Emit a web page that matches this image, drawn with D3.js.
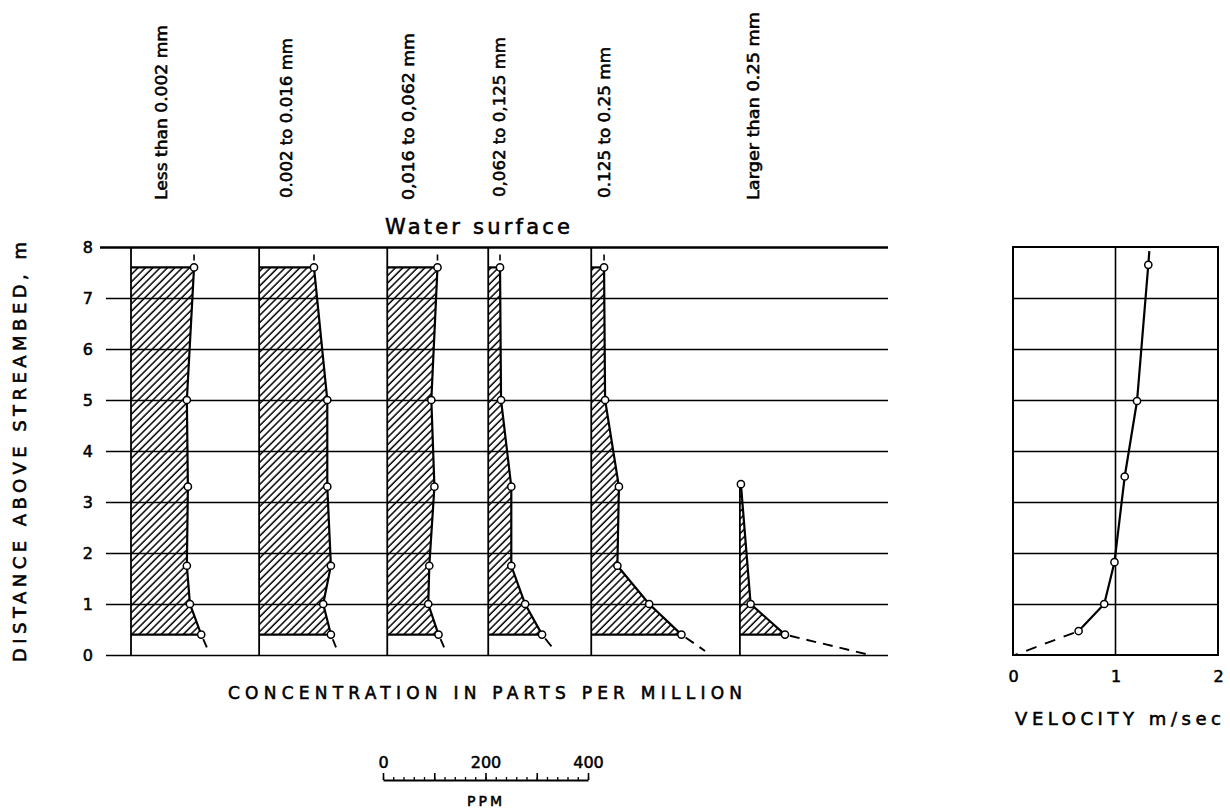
<!DOCTYPE html>
<html><head><meta charset="utf-8">
<script src="https://cdn.jsdelivr.net/npm/d3@7"></script>
<style>
body{margin:0;background:#fff;}
svg{display:block;background:#fff;}
text{font-family:"DejaVu Sans",sans-serif;fill:#000;}
</style></head><body>
<svg id="c" width="1230" height="808"></svg>
<script>
// ---------------- DATA ----------------
const sizeClasses = ["Less than 0.002 mm","0.002 to 0.016 mm","0,016 to 0,062 mm","0,062 to 0,125 mm","0.125 to 0.25 mm","Larger than 0.25 mm"];
const sampleHeights = [7.6, 5.0, 3.3, 1.75, 1.0, 0.4];          // m above streambed
const concLt0002   = [123, 109, 111, 109, 115, 137];               // ppm
const conc0002_0016 = [107, 133, 133, 140, 125, 140];
const conc0016_0062 = [98, 86, 92, 82, 80, 100];
const conc0062_0125 = [23, 25, 45, 45, 72, 105];
const conc0125_025  = [25, 27, 54, 51, 113, 176];
const coarseHeights = [3.35, 1.0, 0.4];
const concGt025     = [2, 21, 88];
const bedExtrapHeight = [0.15, 0.15, 0.15, 0.15, 0.08, 0.0];
const bedExtrapConc   = [148, 150, 111, 125, 222, 254];
const heightTicks = [0, 1, 2, 3, 4, 5, 6, 7, 8];
const velHeights = [7.92, 7.65, 4.98, 3.5, 1.82, 1.0, 0.47];
const velValues  = [1.33, 1.32, 1.21, 1.09, 0.99, 0.89, 0.64];
const velBed = [0.02, 0.0];   // [velocity, height] at bed (dashed extrapolation)
const velTicks = [0, 1, 2];
const ppmMinorTicks = [0,20,40,60,80,100,120,140,160,180,200,220,240,260,280,300,320,340,360,380,400];
const ppmMajorTicks = [0, 100, 200, 300, 400];
const ppmLabelTicks = [0, 200, 400];

// ---------------- LAYOUT ----------------
const columnOffsetPpm = [0, 250, 500, 697, 898, 1188];
const labelPos = [[167,200,175],[292,198,160],[414,200,167],[505,197,160],[610,198,151],[759,200,188]];

const svg = d3.select("#c");
const x = d3.scaleLinear().domain([0, 1477]).range([131, 888]);
const y = d3.scaleLinear().domain([0, 8]).range([655, 247]);
const xv = d3.scaleLinear().domain([0, 2]).range([1013, 1218]);
const TXT = "stroke:#000;stroke-width:0.55";

// hatch pattern
svg.append("defs").append("pattern").attr("id","hatch")
  .attr("patternUnits","userSpaceOnUse").attr("width",5.2).attr("height",5.2)
  .attr("patternTransform","rotate(45)")
  .append("line").attr("x1",1).attr("y1",-1).attr("x2",1).attr("y2",7)
  .attr("stroke","#000").attr("stroke-width",1.5);

// horizontal gridlines + height tick labels
const gA = svg.append("g").attr("transform","translate(106,0)")
  .call(d3.axisLeft(y).tickValues(heightTicks).tickSize(-782).tickPadding(13).tickFormat(d3.format("d")));
gA.select(".domain").remove();
gA.selectAll(".tick line").attr("stroke","#000").attr("stroke-width",d=>d===8?2.6:1.7)
  .attr("x1",d=>d===8?-6:0);
gA.selectAll(".tick text").attr("font-size",16).attr("font-family","DejaVu Sans").attr("style",TXT);

// concentration columns
const series = [concLt0002, conc0002_0016, conc0016_0062, conc0062_0125, conc0125_025, concGt025];
const gC = svg.append("g");
series.forEach((vals, i) => {
  const hs = i === 5 ? coarseHeights : sampleHeights;
  const b = columnOffsetPpm[i];
  const pts = hs.map((h, j) => ({h, c: vals[j]}));
  const area = d3.area().y(d => y(d.h)).x0(x(b)).x1(d => x(b + d.c));
  gC.append("path").datum(pts).attr("d", area).attr("fill","url(#hatch)");
  // baseline vertical
  gC.append("line").attr("x1",x(b)).attr("x2",x(b))
    .attr("y1", y(i === 5 ? hs[0] : 8)).attr("y2", y(0))
    .attr("stroke","#000").attr("stroke-width",1.8);
  // top and bottom edges
  const first = pts[0], last = pts[pts.length-1];
  if (i < 5) {
    gC.append("line").attr("x1",x(b)).attr("x2",x(b+first.c)).attr("y1",y(first.h)).attr("y2",y(first.h))
      .attr("stroke","#000").attr("stroke-width",2.2);
  }
  gC.append("line").attr("x1",x(b)).attr("x2",x(b+last.c)).attr("y1",y(last.h)).attr("y2",y(last.h))
    .attr("stroke","#000").attr("stroke-width",2.2);
  // profile
  gC.append("path").datum(pts)
    .attr("d", d3.line().x(d => x(b + d.c)).y(d => y(d.h)))
    .attr("fill","none").attr("stroke","#000").attr("stroke-width",2.2);
  // top dash towards water surface
  if (i < 5) {
    gC.append("line").attr("x1",x(b+first.c)).attr("x2",x(b+first.c))
      .attr("y1",y(first.h)).attr("y2",y(8))
      .attr("stroke","#000").attr("stroke-width",1.6).attr("stroke-dasharray","0 7 6 40");
  }
  // dashed extrapolation to bed
  gC.append("line").attr("x1",x(b+last.c)).attr("y1",y(last.h))
    .attr("x2",x(b+bedExtrapConc[i])).attr("y2",y(bedExtrapHeight[i]))
    .attr("stroke","#000").attr("stroke-width",1.9)
    .attr("stroke-dasharray","10 7").attr("stroke-dashoffset",12);
  // points
  gC.selectAll(null).data(pts).join("circle")
    .attr("cx", d => x(b + d.c)).attr("cy", d => y(d.h)).attr("r",3.6)
    .attr("fill","#fff").attr("stroke","#000").attr("stroke-width",1.5);
});

// size-class labels (vertical)
sizeClasses.forEach((s, i) => {
  const [lx, ly, len] = labelPos[i];
  svg.append("text").attr("transform",`translate(${lx},${ly}) rotate(-90)`)
    .attr("font-size",16).attr("textLength",len).attr("lengthAdjust","spacingAndGlyphs")
    .attr("style",TXT).text(s);
});

svg.append("text").attr("x",385).attr("y",234).attr("font-size",21)
  .attr("textLength",185).attr("lengthAdjust","spacing").attr("style",TXT).text("Water surface");

svg.append("text").attr("transform","translate(26,662) rotate(-90)").attr("font-size",18)
  .attr("textLength",420).attr("lengthAdjust","spacing").attr("style","stroke:#000;stroke-width:0.6").text("DISTANCE ABOVE STREAMBED, m");

svg.append("text").attr("x",228).attr("y",699).attr("font-size",17)
  .attr("textLength",514).attr("lengthAdjust","spacing").attr("style",TXT).text("CONCENTRATION IN PARTS PER MILLION");

// PPM scale bar
const sb = d3.scaleLinear().domain([0, 400]).range([x(0), x(400)]);
const gS = svg.append("g").attr("transform",`translate(${383 - x(0)},780)`);
const minor = gS.append("g").call(d3.axisTop(sb).tickValues(ppmMinorTicks).tickSize(3).tickSizeOuter(0).tickFormat(""));
minor.selectAll("line").attr("stroke","#000").attr("stroke-width",1.3);
minor.select(".domain").attr("stroke","#000").attr("stroke-width",1.8);
const major = gS.append("g").call(d3.axisTop(sb).tickValues(ppmMajorTicks).tickSize(7).tickSizeOuter(0).tickPadding(5)
  .tickFormat(d => ppmLabelTicks.includes(d) ? d : ""));
major.select(".domain").remove();
major.selectAll("line").attr("stroke","#000").attr("stroke-width",1.6);
major.selectAll("text").attr("font-size",16).attr("font-family","DejaVu Sans").attr("style",TXT);
svg.append("text").attr("x",486).attr("y",806).attr("text-anchor","middle").attr("font-size",14)
  .attr("letter-spacing",3).attr("style",TXT).text("PPM");

// velocity panel
const gV = svg.append("g");
const gVg = gV.append("g").attr("transform",`translate(${xv(0)},0)`)
  .call(d3.axisLeft(y).tickValues([1,2,3,4,5,6,7]).tickSize(-(xv(2)-xv(0))).tickFormat(""));
gVg.select(".domain").remove();
gVg.selectAll("line").attr("stroke","#000").attr("stroke-width",1.6);
gV.append("line").attr("x1",xv(1)).attr("x2",xv(1)).attr("y1",y(8)).attr("y2",y(0))
  .attr("stroke","#000").attr("stroke-width",1.6);
gV.append("rect").attr("x",xv(0)).attr("y",y(8)).attr("width",xv(2)-xv(0)).attr("height",y(0)-y(8))
  .attr("fill","none").attr("stroke","#000").attr("stroke-width",2);
const gVx = gV.append("g").attr("transform",`translate(0,${y(0)})`)
  .call(d3.axisBottom(xv).tickValues(velTicks).tickSize(0).tickPadding(16).tickFormat(d3.format("d")));
gVx.select(".domain").remove();
gVx.selectAll("text").attr("font-size",16).attr("font-family","DejaVu Sans").attr("style",TXT);
const vpts = velHeights.map((h, j) => ({h, v: velValues[j]}));
gV.append("path").datum(vpts).attr("d", d3.line().x(d => xv(d.v)).y(d => y(d.h)))
  .attr("fill","none").attr("stroke","#000").attr("stroke-width",2.2);
const vlast = vpts[vpts.length-1];
gV.append("line").attr("x1",xv(vlast.v)).attr("y1",y(vlast.h)).attr("x2",xv(velBed[0])).attr("y2",y(velBed[1]))
  .attr("stroke","#000").attr("stroke-width",1.9).attr("stroke-dasharray","11 9").attr("stroke-dashoffset",-5);
gV.selectAll(null).data(vpts.slice(1)).join("circle")
  .attr("cx", d => xv(d.v)).attr("cy", d => y(d.h)).attr("r",3.6)
  .attr("fill","#fff").attr("stroke","#000").attr("stroke-width",1.5);
svg.append("text").attr("x",1015).attr("y",725).attr("font-size",18)
  .attr("textLength",206).attr("lengthAdjust","spacing").attr("style",TXT).text("VELOCITY m/sec");
</script></body></html>
